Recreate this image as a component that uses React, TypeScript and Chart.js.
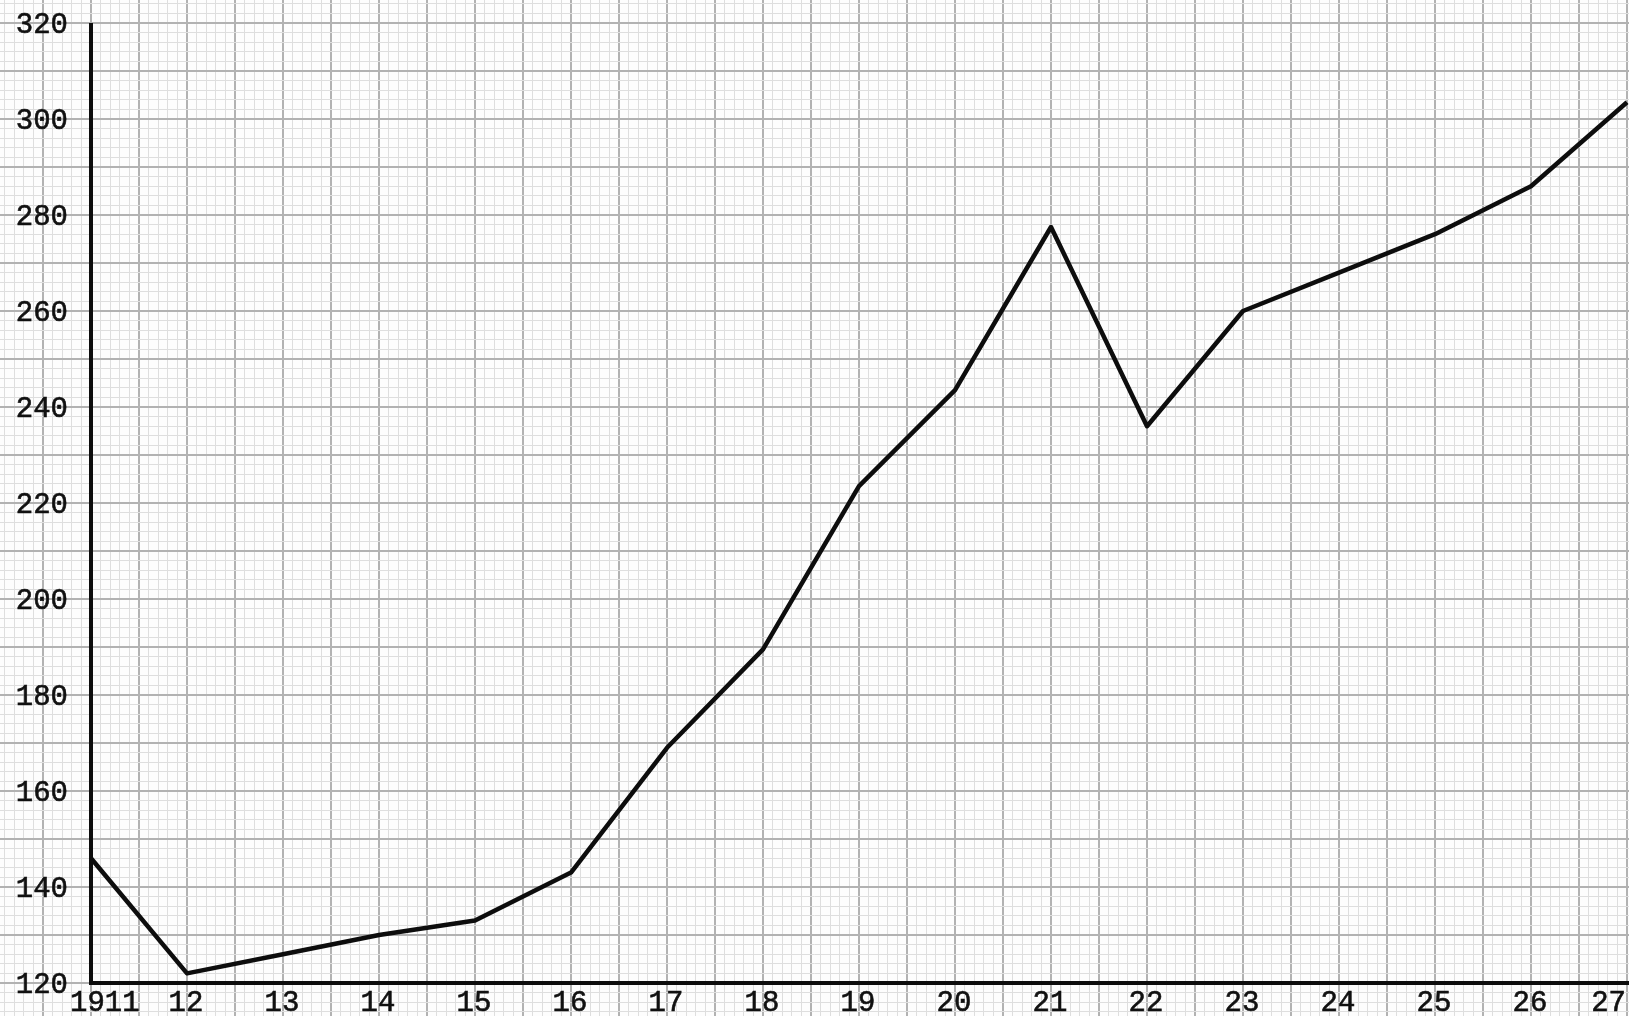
import React, { useEffect, useRef } from "react";
import { Chart, registerables } from "chart.js";

Chart.register(...registerables);

// ---- data ----
const years: number[] = [1911, 1912, 1913, 1914, 1915, 1916, 1917, 1918, 1919, 1920, 1921, 1922, 1923, 1924, 1925, 1926, 1927];
const values: number[] = [146, 122, 126, 130, 133, 143, 169, 189.5, 223.5, 243.5, 277.5, 236, 260, 268, 276, 286, 303.5];

const xTickLabels: string[] = ["1911", "12", "13", "14", "15", "16", "17", "18", "19", "20", "21", "22", "23", "24", "25", "26", "27"];
const yTickValues: number[] = [120, 140, 160, 180, 200, 220, 240, 260, 280, 300, 320];
const yTickLabels: string[] = ["120", "140", "160", "180", "200", "220", "240", "260", "280", "300", "320"];

const W = 1629;
const H = 1016;
// scale extents (graph paper runs past the axes)
const X_MIN = 1911 - 91 / 96;
const X_MAX = 1911 + (W - 91) / 96;
const Y_MIN = 120 - (H - 983) / 4.8;
const Y_MAX = 120 + 983 / 4.8;

const isMult = (v: number, step: number) => Math.abs(v / step - Math.round(v / step)) < 1e-6;

function gridTicks(min: number, max: number, step: number) {
  const out: { value: number }[] = [];
  const start = Math.ceil(min / step - 1e-9);
  const end = Math.floor(max / step + 1e-9);
  for (let i = start; i <= end; i++) out.push({ value: +(i * step).toFixed(6) });
  return out;
}

const paperPlugin = {
  id: "paper",
  beforeDraw(chart: any) {
    const { ctx } = chart;
    ctx.save();
    ctx.fillStyle = "#fdfdfd";
    ctx.fillRect(0, 0, chart.width, chart.height);
    ctx.restore();
  },
  afterDatasetsDraw(chart: any) {
    const { ctx, scales } = chart;
    const xs = scales.x;
    const ys = scales.y;
    const x0 = xs.getPixelForValue(1911);
    const yBase = ys.getPixelForValue(120);
    const yTop = ys.getPixelForValue(320);
    ctx.save();
    ctx.strokeStyle = "#0d0d0d";
    ctx.lineWidth = 4;
    ctx.lineCap = "butt";
    ctx.beginPath();
    ctx.moveTo(x0, yTop);
    ctx.lineTo(x0, yBase + 2);
    ctx.moveTo(x0 - 2, yBase);
    ctx.lineTo(chart.width, yBase);
    ctx.stroke();

    ctx.fillStyle = "#111";
    ctx.strokeStyle = "#111";
    ctx.lineWidth = 0.6;
    ctx.font = "29px 'Liberation Mono', 'DejaVu Sans Mono', monospace";
    ctx.textBaseline = "alphabetic";
    // y labels
    ctx.textAlign = "right";
    yTickValues.forEach((v, i) => {
      const y = ys.getPixelForValue(v);
      ctx.fillText(yTickLabels[i], 68, y + 10);
      ctx.strokeText(yTickLabels[i], 68, y + 10);
    });
    // x labels
    years.forEach((yr, i) => {
      const x = xs.getPixelForValue(yr);
      const label = xTickLabels[i];
      let tx = x - 1;
      if (i === 0) {
        ctx.textAlign = "left";
        tx = x - 21;
      } else if (i === years.length - 1) {
        ctx.textAlign = "right";
        tx = chart.width - 3;
      } else {
        ctx.textAlign = "center";
      }
      ctx.fillText(label, tx, yBase + 28);
      ctx.strokeText(label, tx, yBase + 28);
    });
    ctx.restore();
  },
};

export default function App() {
  const ref = useRef<HTMLCanvasElement | null>(null);

  useEffect(() => {
    document.body.style.margin = "0";
    document.body.style.overflow = "hidden";
    const canvas = ref.current;
    if (!canvas) return;
    const chart = new Chart(canvas, {
      type: "line",
      data: {
        datasets: [
          {
            label: "Index",
            data: years.map((yr, i) => ({ x: yr, y: values[i] })),
            borderColor: "#0d0d0d",
            borderWidth: 4.5,
            pointRadius: 0,
            tension: 0,
            fill: false,
            borderJoinStyle: "round",
          } as any,
        ],
      },
      options: {
        animation: false,
        responsive: false,
        devicePixelRatio: 1,
        layout: { padding: 0 },
        plugins: { legend: { display: false }, tooltip: { enabled: false }, title: { display: false } },
        scales: {
          x: {
            type: "linear",
            min: X_MIN,
            max: X_MAX,
            afterBuildTicks: (s: any) => {
              s.ticks = gridTicks(X_MIN, X_MAX, 0.1);
            },
            ticks: { display: false },
            border: { display: false },
            grid: {
              drawTicks: false,
              color: (c: any) => (isMult(c.tick.value, 0.5) ? "#b2b2b2" : "#dedede"),
              lineWidth: (c: any) => (isMult(c.tick.value, 0.5) ? 2 : 1),
            },
          },
          y: {
            type: "linear",
            min: Y_MIN,
            max: Y_MAX,
            afterBuildTicks: (s: any) => {
              s.ticks = gridTicks(Y_MIN, Y_MAX, 2);
            },
            ticks: { display: false },
            border: { display: false },
            grid: {
              drawTicks: false,
              color: (c: any) => (isMult(c.tick.value, 10) ? "#b2b2b2" : "#dedede"),
              lineWidth: (c: any) => (isMult(c.tick.value, 10) ? 2 : 1),
            },
          },
        },
      },
      plugins: [paperPlugin],
    });
    return () => chart.destroy();
  }, []);

  return (
    <div style={{ width: W, height: H }}>
      <canvas ref={ref} width={W} height={H} style={{ display: "block" }} />
    </div>
  );
}
